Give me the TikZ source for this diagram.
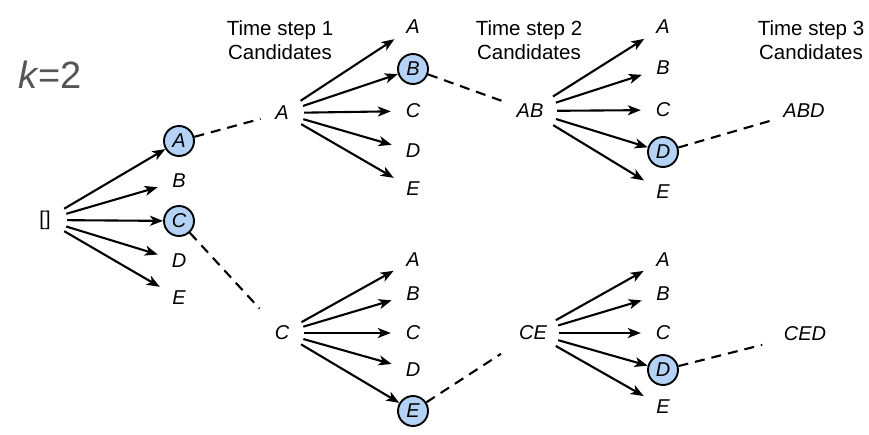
\documentclass[tikz,border=0pt]{standalone}
\usepackage{fontspec}
\setmainfont{Liberation Sans}
\usetikzlibrary{arrows.meta}
\definecolor{pickblue}{HTML}{B4D2F5}
\definecolor{kgray}{HTML}{555555}
\begin{document}
\begin{tikzpicture}[x=1pt, y=-1pt,
  cand/.style={circle, inner sep=0pt, minimum size=44pt, font=\fontsize{20}{24}\selectfont\itshape},
  pick/.style={circle, draw, line width=1.9pt, fill=pickblue, inner sep=0pt, minimum size=30pt, font=\fontsize{20}{24}\selectfont\itshape},
  head/.style={align=center, font=\fontsize{20.5}{24}\selectfont},
  arr/.style={-{Stealth[length=13pt, width=10pt, inset=3.5pt]}, line width=2.1pt},
  keep/.style={dash pattern=on 10pt off 7pt, line width=2.1pt}]

\useasboundingbox (0,0) rectangle (869,434);

\node[kgray, font=\fontsize{38}{40}\selectfont] (kval) at (50,75) {\textit{k}=2};

\node[head] (head1) at (280,40) {Time step 1\\Candidates};
\node[head] (head2) at (529,40) {Time step 2\\Candidates};
\node[head] (head3) at (811,40) {Time step 3\\Candidates};

% time step 1
\node[cand, font=\fontsize{20}{24}\selectfont] (root) at (45,220) {[]};
\node[pick] (a1) at (179,141) {A};
\node[cand] (b1) at (179,181) {B};
\node[pick] (c1) at (179,221) {C};
\node[cand] (d1) at (179,261) {D};
\node[cand] (e1) at (179,298) {E};

\draw[arr] (root) -- (a1);
\draw[arr] (root) -- (b1);
\draw[arr] (root) -- (c1);
\draw[arr] (root) -- (d1);
\draw[arr] (root) -- (e1);

% time step 2
\node[cand] (seqA) at (282,113) {A};
\node[cand] (seqC) at (282,333) {C};
\draw[keep] (a1) -- (seqA);
\draw[keep, shorten >=11pt] (c1) -- (seqC);

\node[cand] (ta2) at (413,27) {A};
\node[pick] (tb2) at (413,69) {B};
\node[cand] (tc2) at (413,111) {C};
\node[cand] (td2) at (413,151) {D};
\node[cand] (te2) at (413,189) {E};

\draw[arr] (seqA) -- (ta2);
\draw[arr] (seqA) -- (tb2);
\draw[arr] (seqA) -- (tc2);
\draw[arr] (seqA) -- (td2);
\draw[arr] (seqA) -- (te2);

\node[cand] (ba2) at (413,260) {A};
\node[cand] (bb2) at (413,294) {B};
\node[cand] (bc2) at (413,333) {C};
\node[cand] (bd2) at (413,370) {D};
\node[pick] (be2) at (413,411) {E};

\draw[arr] (seqC) -- (ba2);
\draw[arr] (seqC) -- (bb2);
\draw[arr] (seqC) -- (bc2);
\draw[arr] (seqC) -- (bd2);
\draw[arr] (seqC) -- (be2);

% time step 3
\node[cand, minimum size=54pt] (seqAB) at (530,111) {AB};
\node[cand, minimum size=52pt] (seqCE) at (533,333) {CE};
\draw[keep] (tb2) -- (seqAB);
\draw[keep, shorten >=12pt] (be2) -- (seqCE);

\node[cand] (ta3) at (663,27) {A};
\node[cand] (tb3) at (663,68) {B};
\node[cand] (tc3) at (663,110) {C};
\node[pick] (td3) at (663,152) {D};
\node[cand] (te3) at (663,192) {E};

\draw[arr] (seqAB) -- (ta3);
\draw[arr] (seqAB) -- (tb3);
\draw[arr] (seqAB) -- (tc3);
\draw[arr] (seqAB) -- (td3);
\draw[arr] (seqAB) -- (te3);

\node[cand] (ba3) at (663,260) {A};
\node[cand] (bb3) at (663,294) {B};
\node[cand] (bc3) at (663,333) {C};
\node[pick] (bd3) at (663,370) {D};
\node[cand] (be3) at (663,407) {E};

\draw[arr] (seqCE) -- (ba3);
\draw[arr] (seqCE) -- (bb3);
\draw[arr] (seqCE) -- (bc3);
\draw[arr] (seqCE) -- (bd3);
\draw[arr] (seqCE) -- (be3);

\node[cand, minimum size=68pt] (seqABD) at (804,111) {ABD};
\node[cand, minimum size=72pt] (seqCED) at (805,334) {CED};
\draw[keep] (td3) -- (seqABD);
\draw[keep, shorten >=8pt] (bd3) -- (seqCED);

\end{tikzpicture}
\end{document}
